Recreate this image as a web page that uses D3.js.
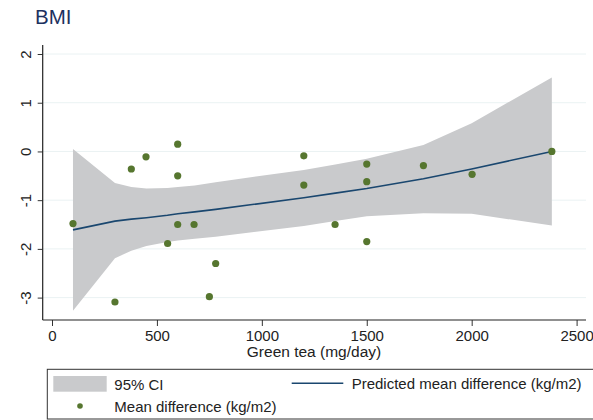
<!DOCTYPE html>
<html>
<head>
<meta charset="utf-8">
<script src="https://cdn.jsdelivr.net/npm/d3@7"></script>
<style>
    body { margin: 0; background: #fff; }
    svg { display: block; font-family: "Liberation Sans", Arial, sans-serif; }
</style>
</head>
<body>
<svg id="chart" width="593" height="420"></svg>
<script>
// observed mean differences (green tea mg/day, BMI kg/m2)
var doseX = [100, 300, 378, 448, 551, 599, 599, 599, 677, 750, 780, 1200, 1200, 1349, 1500, 1500, 1500, 1770, 2002, 2382];
var meanDiff = [-1.48, -3.09, -0.36, -0.11, -1.89, 0.15, -0.50, -1.50, -1.50, -2.98, -2.30, -0.09, -0.69, -1.50, -0.26, -0.62, -1.85, -0.29, -0.47, 0.00];

// fitted curve and 95% CI
var fitX = [100, 300, 378, 450, 550, 600, 680, 780, 1200, 1350, 1500, 1770, 2000, 2382];
var fitY = [-1.61, -1.43, -1.39, -1.36, -1.31, -1.28, -1.24, -1.19, -0.95, -0.855, -0.76, -0.56, -0.36, 0.0];
var ciLow = [-3.27, -2.19, -2.04, -1.94, -1.86, -1.83, -1.79, -1.75, -1.53, -1.43, -1.33, -1.27, -1.28, -1.52];
var ciHigh = [0.05, -0.65, -0.73, -0.76, -0.75, -0.73, -0.70, -0.63, -0.38, -0.27, -0.15, 0.13, 0.58, 1.52];

var xTicks = [0, 500, 1000, 1500, 2000, 2500];
var yTicks = [-3, -2, -1, 0, 1, 2];

(function () {
    'use strict';

    var svg = d3.select('#chart');

    var x = d3.scaleLinear().domain([0, 2500]).range([52, 576.6]);
    var y = d3.scaleLinear().domain([-3, 2]).range([297.6, 54]);

    var axisLeft = 42.7;
    var axisBottom = 320;
    var axisRight = 586;

    // plain hyphen for negatives, like the original
    var fmt = function (d) { return String(d); };

    // title
    svg.append('text')
        .attr('x', 35)
        .attr('y', 24)
        .attr('font-size', 20.5)
        .attr('fill', '#1c3160')
        .text('BMI');

    // gridlines
    svg.append('g').selectAll('line')
        .data(yTicks)
        .enter().append('line')
        .attr('x1', axisLeft)
        .attr('x2', axisRight)
        .attr('y1', function (d) { return y(d); })
        .attr('y2', function (d) { return y(d); })
        .attr('stroke', '#eaf2f3')
        .attr('stroke-width', 1);

    var fit = fitX.map(function (v, i) {
        return { x: v, y: fitY[i], lo: ciLow[i], hi: ciHigh[i] };
    });

    var area = d3.area()
        .x(function (d) { return x(d.x); })
        .y0(function (d) { return y(d.lo); })
        .y1(function (d) { return y(d.hi); });

    svg.append('path')
        .datum(fit)
        .attr('d', area)
        .attr('fill', '#c9cacc');

    var line = d3.line()
        .x(function (d) { return x(d.x); })
        .y(function (d) { return y(d.y); });

    svg.append('path')
        .datum(fit)
        .attr('d', line)
        .attr('fill', 'none')
        .attr('stroke', '#1a476f')
        .attr('stroke-width', 1.6);

    svg.append('g').selectAll('circle')
        .data(doseX)
        .enter().append('circle')
        .attr('cx', function (d) { return x(d); })
        .attr('cy', function (d, i) { return y(meanDiff[i]); })
        .attr('r', 3.6)
        .attr('fill', '#56762f');

    // axes
    var xAxis = svg.append('g')
        .attr('transform', 'translate(0,' + axisBottom + ')')
        .call(d3.axisBottom(x).tickValues(xTicks).tickSize(6).tickPadding(4).tickFormat(fmt));
    xAxis.select('.domain').remove();
    xAxis.selectAll('text').attr('font-size', 15).attr('fill', '#222').attr('font-family', null);
    xAxis.selectAll('line').attr('stroke', '#333');

    var yAxis = svg.append('g')
        .attr('transform', 'translate(' + axisLeft + ',0)')
        .call(d3.axisLeft(y).tickValues(yTicks).tickSize(5).tickFormat(fmt));
    yAxis.select('.domain').remove();
    yAxis.selectAll('line').attr('stroke', '#333');
    yAxis.selectAll('text')
        .attr('font-size', 15)
        .attr('fill', '#222')
        .attr('font-family', null)
        .attr('x', null)
        .attr('dy', null)
        .attr('text-anchor', 'middle')
        .attr('transform', 'translate(-12,0) rotate(-90)');

    svg.append('line')
        .attr('x1', axisLeft).attr('x2', axisLeft)
        .attr('y1', 45).attr('y2', axisBottom)
        .attr('stroke', '#222').attr('stroke-width', 1.2);
    svg.append('line')
        .attr('x1', axisLeft).attr('x2', axisRight)
        .attr('y1', axisBottom).attr('y2', axisBottom)
        .attr('stroke', '#222').attr('stroke-width', 1.2);

    svg.append('text')
        .attr('x', 314)
        .attr('y', 357)
        .attr('text-anchor', 'middle')
        .attr('font-size', 15.5)
        .attr('fill', '#222')
        .text('Green tea (mg/day)');

    // legend
    var legend = svg.append('g');
    legend.append('rect')
        .attr('x', 47.3).attr('y', 369.3)
        .attr('width', 560).attr('height', 49.7)
        .attr('fill', '#fff')
        .attr('stroke', '#333').attr('stroke-width', 1);
    legend.append('rect')
        .attr('x', 53.3).attr('y', 376)
        .attr('width', 53.4).attr('height', 15.7)
        .attr('fill', '#c9cacc');
    legend.append('text')
        .attr('x', 114.3).attr('y', 390.3)
        .attr('font-size', 15).attr('fill', '#222')
        .text('95% CI');
    legend.append('line')
        .attr('x1', 291.7).attr('x2', 343.3)
        .attr('y1', 383.3).attr('y2', 383.3)
        .attr('stroke', '#1a476f').attr('stroke-width', 1.6);
    legend.append('text')
        .attr('x', 351.7).attr('y', 389)
        .attr('font-size', 15).attr('fill', '#222')
        .text('Predicted mean difference (kg/m2)');
    legend.append('circle')
        .attr('cx', 80).attr('cy', 406)
        .attr('r', 2.8)
        .attr('fill', '#56762f');
    legend.append('text')
        .attr('x', 114.3).attr('y', 411.5)
        .attr('font-size', 15).attr('fill', '#222')
        .text('Mean difference (kg/m2)');
})();
</script>
</body>
</html>
